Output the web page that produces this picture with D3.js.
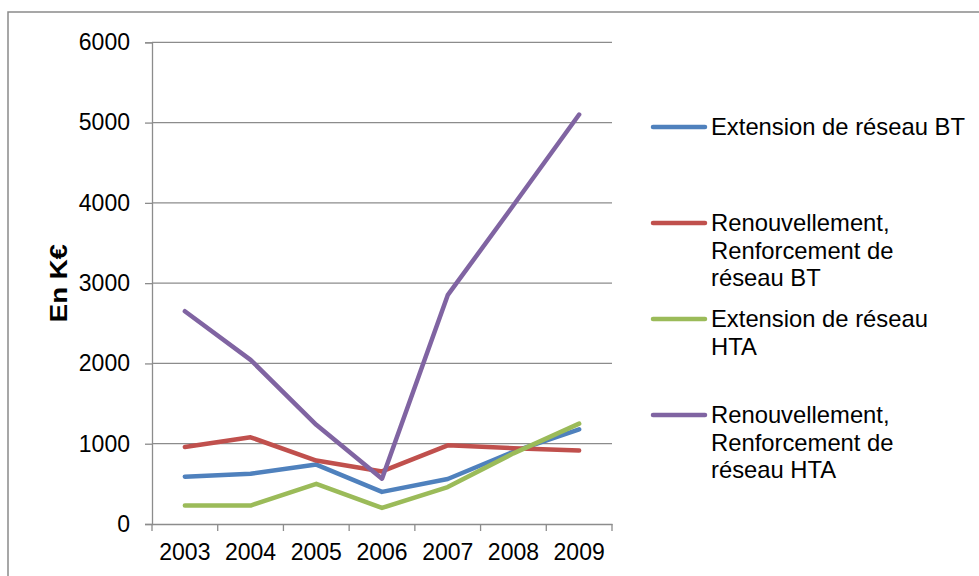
<!DOCTYPE html>
<html><head><meta charset="utf-8">
<script src="https://cdn.jsdelivr.net/npm/d3@7/dist/d3.min.js"></script>
<style>body{margin:0;background:#fff}svg{display:block;font-family:"Liberation Sans",Arial,sans-serif}</style>
</head><body><svg id="c" width="979" height="576"></svg>
<script>
const years = ["2003","2004","2005","2006","2007","2008","2009"];
const extBT = [590, 625, 740, 400, 560, 900, 1180];
const renBT = [960, 1080, 790, 655, 980, 945, 915];
const extHTA = [230, 230, 500, 200, 460, 880, 1250];
const renHTA = [2650, 2045, 1235, 565, 2850, 3970, 5100];
const yTicks = [0, 1000, 2000, 3000, 4000, 5000, 6000];
const seriesNames = [["Extension de réseau BT"], ["Renouvellement,", "Renforcement de", "réseau BT"], ["Extension de réseau", "HTA"], ["Renouvellement,", "Renforcement de", "réseau HTA"]];
const colors = ["#4F81BD", "#C0504D", "#9BBB59", "#8064A2"];
const yTitle = "En K€";

const series = [extBT, renBT, extHTA, renHTA];
const svg = d3.select("#c");
const L = 152, R = 612, T = 42.3, B = 524;
const FF = "Liberation Sans, Arial, sans-serif";

svg.append("rect").attr("x", 8).attr("y", 12).attr("width", 1000).attr("height", 600)
  .attr("fill", "none").attr("stroke", "#8a8a8a").attr("stroke-width", 1.5);

const x = d3.scaleBand().domain(years).range([L, R]).padding(0);
const y = d3.scaleLinear().domain([0, 6000]).range([B, T]);

svg.append("g").selectAll("line").data(yTicks.slice(1)).join("line")
  .attr("x1", L).attr("x2", R).attr("y1", d => y(d)).attr("y2", d => y(d))
  .attr("stroke", "#8c8c8c").attr("stroke-width", 1.3);

const ya = svg.append("g").attr("transform", `translate(${L},0)`)
  .call(d3.axisLeft(y).tickValues(yTicks).tickSize(7).tickPadding(15).tickFormat(d3.format("d")));
ya.select(".domain").attr("stroke", "#8c8c8c").attr("stroke-width", 1.3);
ya.selectAll(".tick line").attr("stroke", "#8c8c8c").attr("stroke-width", 1.3);
ya.selectAll("text").attr("font-size", 23).attr("fill", "#000").attr("font-family", FF);

const xa = svg.append("g").attr("transform", `translate(0,${B})`)
  .call(d3.axisBottom(x).tickSize(0).tickPadding(20));
xa.select(".domain").attr("stroke", "#8c8c8c").attr("stroke-width", 1.3);
xa.selectAll("text").attr("font-size", 23).attr("fill", "#000").attr("font-family", FF);
svg.append("g").selectAll("line").data(years.concat(["end"])).join("line")
  .attr("x1", (d, i) => L + i * x.bandwidth()).attr("x2", (d, i) => L + i * x.bandwidth())
  .attr("y1", B).attr("y2", B + 7).attr("stroke", "#8c8c8c").attr("stroke-width", 1.3);

svg.append("text").attr("transform", `translate(67,${(T + B) / 2}) rotate(-90) scale(1.2,1)`)
  .attr("text-anchor", "middle").attr("font-weight", "bold").attr("font-size", 23)
  .text(yTitle);

const line = d3.line().x((d, i) => x(years[i]) + x.bandwidth() / 2).y(d => y(d));
svg.append("g").selectAll("path").data(series).join("path")
  .attr("d", d => line(d)).attr("fill", "none")
  .attr("stroke", (d, i) => colors[i]).attr("stroke-width", 4.5)
  .attr("stroke-linecap", "round").attr("stroke-linejoin", "round");

const legY = [127, 223, 319, 415];
const lg = svg.append("g");
seriesNames.forEach((lines, i) => {
  lg.append("line").attr("x1", 653).attr("x2", 705).attr("y1", legY[i]).attr("y2", legY[i])
    .attr("stroke", colors[i]).attr("stroke-width", 4.5).attr("stroke-linecap", "round");
  const t = lg.append("text").attr("x", 711).attr("y", legY[i] + 8).attr("font-size", 23.8);
  lines.forEach((s, j) => t.append("tspan").attr("x", 711).attr("dy", j ? 27.5 : 0).text(s));
});
</script></body></html>
